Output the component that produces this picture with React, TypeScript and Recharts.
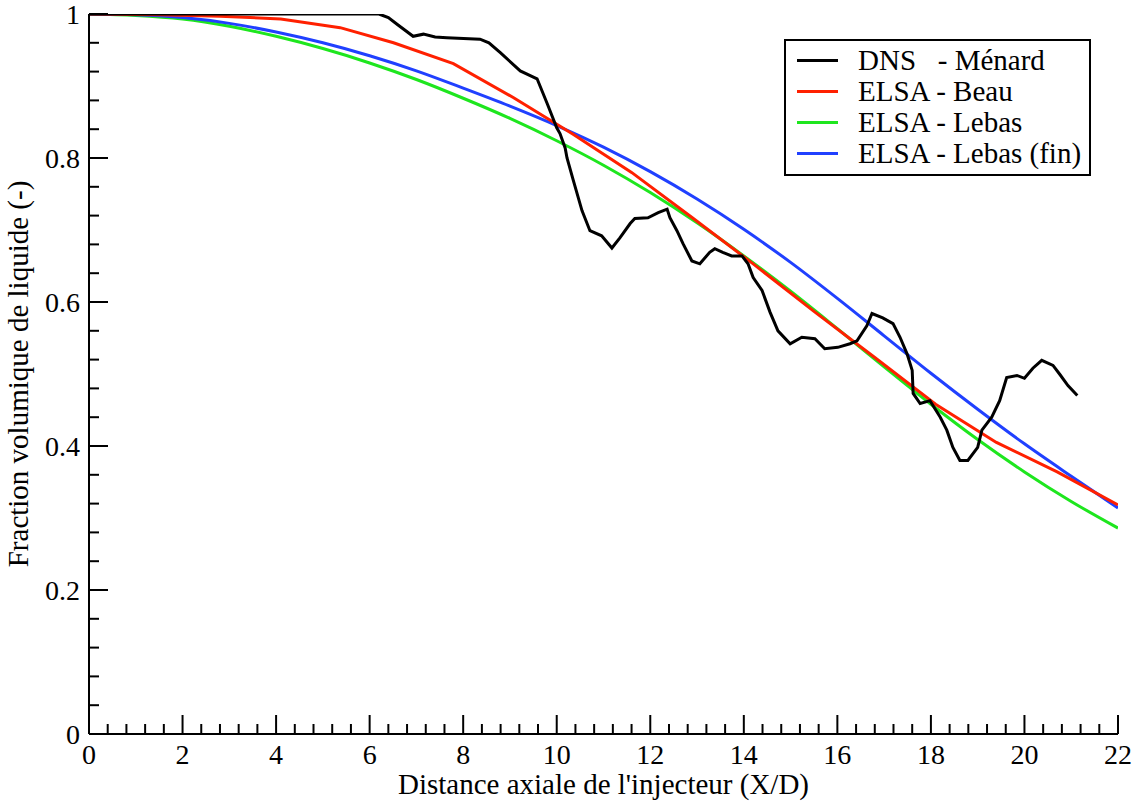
import { LineChart, Line, XAxis, YAxis } from "recharts";

const FONT = "'Liberation Serif', 'Times New Roman', serif";

// DNS - Ménard (staircase signal)
const dnsX = [
  0, 6.2, 6.4, 6.6, 6.93, 7.15, 7.4, 7.65, 8.36, 8.55, 8.8, 9.22, 9.58, 9.8, 10.0, 10.07, 10.18, 10.22,
  10.35, 10.54, 10.71, 10.96, 11.18, 11.35, 11.57, 11.67, 11.95, 12.17, 12.36, 12.42, 12.57, 12.7, 12.89,
  13.06, 13.27, 13.38, 13.55, 13.74, 13.96, 14.09, 14.2, 14.39, 14.56, 14.73, 14.99, 15.24, 15.52, 15.73,
  16.01, 16.27, 16.42, 16.63, 16.74, 16.97, 17.19, 17.34, 17.49, 17.6, 17.62, 17.77, 17.98, 18.2, 18.34,
  18.47, 18.62, 18.79, 19.0, 19.09, 19.3, 19.47, 19.62, 19.84, 20.0, 20.18, 20.37, 20.61, 20.75, 20.93, 21.13,
];
const dnsY = [
  1, 1, 0.995, 0.985, 0.969, 0.972, 0.968, 0.967, 0.965, 0.96, 0.946, 0.921, 0.91, 0.875, 0.842, 0.834,
  0.814, 0.8, 0.77, 0.727, 0.699, 0.692, 0.675, 0.689, 0.709, 0.716, 0.717, 0.724, 0.729, 0.717, 0.699,
  0.681, 0.657, 0.653, 0.669, 0.674, 0.669, 0.664, 0.664, 0.653, 0.634, 0.616, 0.586, 0.56, 0.542, 0.551,
  0.549, 0.535, 0.537, 0.542, 0.546, 0.567, 0.584, 0.578, 0.57, 0.551, 0.528, 0.505, 0.473, 0.459, 0.463,
  0.44, 0.422, 0.398, 0.38, 0.38, 0.398, 0.422, 0.44, 0.463, 0.495, 0.498, 0.494, 0.508, 0.519, 0.512,
  0.5, 0.484, 0.47,
];

// ELSA - Beau
const beauX = [0, 1.5, 2.8, 4.1, 5.37, 6.51, 7.79, 9.07, 10.35, 11.6, 12.9, 14.2, 15.5, 16.8, 18.1, 19.4, 20.7, 22];
const beauY = [1.0, 0.999, 0.997, 0.993, 0.981, 0.96, 0.931, 0.884, 0.833, 0.78, 0.717, 0.653, 0.587, 0.523, 0.458, 0.405, 0.364, 0.318];

// ELSA - Lebas and ELSA - Lebas (fin)
const elsaX = [0, 1, 2, 3, 4, 5, 6, 7, 8, 9, 10, 11, 12, 13, 14, 15, 16, 17, 18, 19, 20, 21, 22];
const lebasY = [
  1.0, 0.998, 0.993, 0.983, 0.969, 0.952, 0.932, 0.909, 0.883, 0.855, 0.824, 0.79, 0.752, 0.71, 0.664,
  0.615, 0.563, 0.51, 0.458, 0.409, 0.364, 0.323, 0.286,
];
const lebasFinY = [
  1.0, 0.999, 0.995, 0.987, 0.975, 0.96, 0.942, 0.921, 0.897, 0.872, 0.845, 0.815, 0.781, 0.743, 0.701,
  0.655, 0.605, 0.553, 0.501, 0.451, 0.403, 0.358, 0.314,
];

const xMajor = [0, 2, 4, 6, 8, 10, 12, 14, 16, 18, 20, 22];
const yMajor = [0, 0.2, 0.4, 0.6, 0.8, 1];
const yLabels = ["0", "0.2", "0.4", "0.6", "0.8", "1"];

const series = [
  { name: "DNS   - Ménard", color: "#000000" },
  { name: "ELSA - Beau", color: "#ff2000" },
  { name: "ELSA - Lebas", color: "#1ee61e" },
  { name: "ELSA - Lebas (fin)", color: "#2040ff" },
];

const toPoints = (xs: number[], ys: number[]) => xs.map((x, i) => ({ x, y: ys[i] }));
const dnsData = toPoints(dnsX, dnsY);
const beauData = toPoints(beauX, beauY);
const lebasData = toPoints(elsaX, lebasY);
const lebasFinData = toPoints(elsaX, lebasFinY);

// subdivide majors into 5 minor steps
const withMinor = (major: number[]) => {
  const out: number[] = [];
  for (let i = 0; i < major.length - 1; i++) {
    const step = (major[i + 1] - major[i]) / 5;
    for (let k = 0; k < 5; k++) out.push(+(major[i] + k * step).toFixed(4));
  }
  out.push(major[major.length - 1]);
  return out;
};
const xTicks = withMinor(xMajor);
const yTicks = withMinor(yMajor);

const isMajor = (v: number, major: number[]) => major.some((m) => Math.abs(m - v) < 1e-6);
const MAJOR = 19;
const MINOR = 10;
const TICK_FS = 28;
const TITLE_FS = 29;

function BottomTick(props: any) {
  const { x, y, payload } = props;
  const major = isMajor(payload.value, xMajor);
  return (
    <g>
      <line x1={x} x2={x} y1={y} y2={y - (major ? MAJOR : MINOR)} stroke="#000" strokeWidth={2} />
      {major && (
        <text x={x} y={y + 30} textAnchor="middle" fontSize={TICK_FS} fontFamily={FONT} fill="#000">
          {payload.value}
        </text>
      )}
    </g>
  );
}

function TopTick(props: any) {
  const { x, y, payload } = props;
  const major = isMajor(payload.value, xMajor);
  return <line x1={x} x2={x} y1={y} y2={y + (major ? MAJOR : MINOR)} stroke="#000" strokeWidth={2} />;
}

function LeftTick(props: any) {
  const { x, y, payload } = props;
  const idx = yMajor.findIndex((m) => Math.abs(m - payload.value) < 1e-6);
  return (
    <g>
      <line x1={x} x2={x + (idx >= 0 ? MAJOR : MINOR)} y1={y} y2={y} stroke="#000" strokeWidth={2} />
      {idx >= 0 && (
        <text x={x - 9} y={y} dy="0.35em" textAnchor="end" fontSize={TICK_FS} fontFamily={FONT} fill="#000">
          {yLabels[idx]}
        </text>
      )}
    </g>
  );
}

function RightTick(props: any) {
  const { x, y, payload } = props;
  const major = isMajor(payload.value, yMajor);
  return <line x1={x} x2={x - (major ? MAJOR : MINOR)} y1={y} y2={y} stroke="#000" strokeWidth={2} />;
}

function LegendBox() {
  return (
    <div
      style={{
        position: "absolute",
        left: 784,
        top: 39,
        border: "2px solid #000",
        background: "#fff",
        width: 303,
        height: 129,
        paddingTop: 4,
        fontFamily: FONT,
        fontSize: TITLE_FS,
        color: "#000",
      }}
    >
      {series.map((s) => (
        <div key={s.name} style={{ display: "flex", alignItems: "center", height: 31 }}>
          <div style={{ width: 41, height: 3, background: s.color, marginLeft: 11, marginRight: 20 }} />
          <span style={{ whiteSpace: "pre", lineHeight: "31px" }}>{s.name}</span>
        </div>
      ))}
    </div>
  );
}

export default function App() {
  return (
    <div style={{ width: 1135, height: 805, background: "#fff", position: "relative" }}>
      <style>{`body{margin:0;background:#fff}`}</style>
      <LineChart width={1135} height={805} margin={{ top: 14, right: 17, bottom: 0, left: 0 }}>
        <XAxis
          xAxisId="b"
          type="number"
          dataKey="x"
          domain={[0, 22]}
          ticks={xTicks}
          interval={0}
          allowDataOverflow
          height={71}
          tickSize={0}
          tickMargin={0}
          tick={BottomTick}
          axisLine={{ stroke: "#000", strokeWidth: 2 }}
          label={(p: any) => {
            const vb = p.viewBox;
            return (
              <text x={vb.x + vb.width / 2} y={vb.y + 60} textAnchor="middle" fontSize={TITLE_FS} fontFamily={FONT} fill="#000">
                Distance axiale de l'injecteur (X/D)
              </text>
            );
          }}
        />
        <XAxis
          xAxisId="t"
          orientation="top"
          type="number"
          dataKey="x"
          domain={[0, 22]}
          ticks={xTicks}
          interval={0}
          allowDataOverflow
          height={0}
          tickSize={0}
          tickMargin={0}
          tick={TopTick}
          axisLine={{ stroke: "#000", strokeWidth: 2 }}
        />
        <YAxis
          yAxisId="l"
          type="number"
          domain={[0, 1]}
          ticks={yTicks}
          interval={0}
          allowDataOverflow
          width={89}
          tickSize={0}
          tickMargin={0}
          tick={LeftTick}
          axisLine={{ stroke: "#000", strokeWidth: 2 }}
          label={(p: any) => {
            const vb = p.viewBox;
            const cx = 18;
            const cy = vb.y + vb.height / 2;
            return (
              <text
                x={cx}
                y={cy}
                transform={`rotate(-90 ${cx} ${cy})`}
                textAnchor="middle"
                dy="0.35em"
                fontSize={TITLE_FS}
                fontFamily={FONT}
                fill="#000"
              >
                Fraction volumique de liquide (-)
              </text>
            );
          }}
        />
        <YAxis
          yAxisId="r"
          orientation="right"
          type="number"
          domain={[0, 1]}
          ticks={yTicks}
          interval={0}
          allowDataOverflow
          width={0}
          tickSize={0}
          tickMargin={0}
          tick={RightTick}
          axisLine={{ stroke: "#000", strokeWidth: 2 }}
        />
        <Line
          xAxisId="b"
          yAxisId="l"
          data={lebasData}
          dataKey="y"
          name={series[2].name}
          type="monotone"
          stroke={series[2].color}
          strokeWidth={3}
          dot={false}
          isAnimationActive={false}
        />
        <Line
          xAxisId="b"
          yAxisId="l"
          data={lebasFinData}
          dataKey="y"
          name={series[3].name}
          type="monotone"
          stroke={series[3].color}
          strokeWidth={3}
          dot={false}
          isAnimationActive={false}
        />
        <Line
          xAxisId="b"
          yAxisId="l"
          data={beauData}
          dataKey="y"
          name={series[1].name}
          type="linear"
          stroke={series[1].color}
          strokeWidth={3}
          dot={false}
          isAnimationActive={false}
        />
        <Line
          xAxisId="b"
          yAxisId="l"
          data={dnsData}
          dataKey="y"
          name={series[0].name}
          type="linear"
          stroke={series[0].color}
          strokeWidth={3}
          dot={false}
          isAnimationActive={false}
        />
      </LineChart>
      <LegendBox />
    </div>
  );
}
